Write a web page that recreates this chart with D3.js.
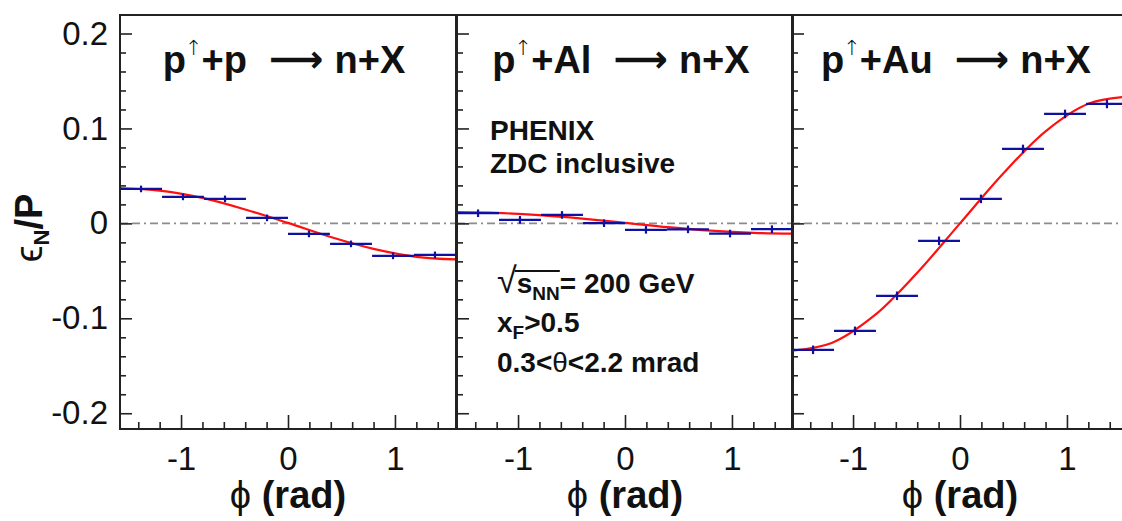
<!DOCTYPE html>
<meta charset="utf-8">
<title>PHENIX ZDC asymmetry</title>
<style>
body { margin: 0; background: #fff; }
svg { display: block; font-family: "Liberation Sans", Arial, sans-serif; }
.axis path { display: none; }
.axis line { stroke: #222; stroke-width: 1.6; }
.axis text { font-size: 33px; fill: #111; font-family: "Liberation Sans", Arial, sans-serif; }
.frame { fill: none; stroke: #222; stroke-width: 2; }
.zero { stroke: #8c8c8c; stroke-width: 1.6; stroke-dasharray: 8,4,8,4,2,4; }
.fit { fill: none; stroke: #ff1010; stroke-width: 2.2; }
.pt { stroke: #1010a0; stroke-width: 2.2; }
.big { font-size: 38px; font-weight: bold; fill: #111; }
.note { font-size: 28px; font-weight: bold; fill: #111; }
</style>
<body>
<svg width="1122" height="521"></svg>
<script src="https://d3js.org/d3.v7.min.js"></script>
<script>

// bin centres in phi (rad), same for every panel
var phiBins = [-1.374, -0.982, -0.589, -0.196, 0.196, 0.589, 0.982, 1.374];
var binHalf = 0.196;

var targets = ["+p", "+Al", "+Au"];

var asymPP  = [0.0363, 0.0279, 0.0258, 0.0058, -0.0111, -0.0216, -0.0342, -0.0332];
var asymPAl = [0.0107, 0.0037, 0.0089, 0.0002, -0.0068, -0.0063, -0.0107, -0.0061];
var asymPAu = [-0.1332, -0.1132, -0.0763, -0.0184, 0.0258, 0.0784, 0.1153, 0.1258];
var errPP  = [0.0035, 0.0035, 0.0035, 0.0035, 0.0035, 0.0035, 0.0035, 0.0035];
var errPAl = [0.004, 0.004, 0.004, 0.004, 0.004, 0.004, 0.004, 0.004];
var errPAu = [0.0045, 0.0045, 0.0045, 0.0045, 0.0045, 0.0045, 0.0045, 0.0045];

var fitPhi = [-1.571, -1.2, -0.8, -0.4, 0, 0.4, 0.8, 1.2, 1.571];
var fitPP  = [0.037, 0.0345, 0.0268, 0.0146, 0.0005, -0.0143, -0.0268, -0.0352, -0.038];
var fitPAl = [0.0118, 0.0110, 0.0086, 0.0050, 0.0006, -0.0040, -0.0077, -0.0100, -0.0108];
var fitPAu = [-0.134, -0.126, -0.097, -0.052, 0, 0.052, 0.097, 0.126, 0.1335];

var yMajor = [-0.2, -0.1, 0, 0.1, 0.2];
var yLabels = ["-0.2", "-0.1", "0", "0.1", "0.2"];
var xMajor = [-1, 0, 1];
var xLabels = ["-1", "0", "1"];

var panels = [
  {asym: asymPP, err: errPP, fit: fitPP, target: targets[0]},
  {asym: asymPAl, err: errPAl, fit: fitPAl, target: targets[1]},
  {asym: asymPAu, err: errPAu, fit: fitPAu, target: targets[2]}
];

var svg = d3.select("svg");
var panelLeft = [120, 457, 792],
    panelW = 336,
    panelTop = 15,
    panelH = 414;

var x = d3.scaleLinear().domain([-Math.PI / 2, Math.PI / 2]).range([0, panelW]);
var y = d3.scaleLinear().domain([-0.2166, 0.2195]).range([panelH, 0]);

var yMinor = d3.range(-0.2, 0.2001, 0.02).filter(function(v) { return Math.abs(v * 10 - Math.round(v * 10)) > 1e-6; });
var xMinor = d3.range(-1.4, 1.4001, 0.2).filter(function(v) { return Math.abs(v - Math.round(v)) > 1e-6; });

var line = d3.line()
  .x(function(d) { return x(d[0]); })
  .y(function(d) { return y(d[1]); })
  .curve(d3.curveCatmullRom);

panels.forEach(function(p, i) {
  var g = svg.append("g").attr("transform", "translate(" + panelLeft[i] + "," + panelTop + ")");

  g.append("line").attr("class", "zero")
    .attr("x1", 0).attr("x2", panelW).attr("y1", y(0)).attr("y2", y(0));

  // minor ticks
  g.append("g").attr("class", "axis")
    .call(d3.axisLeft(y).tickValues(yMinor).tickSize(-6).tickFormat(""));
  g.append("g").attr("class", "axis").attr("transform", "translate(0," + panelH + ")")
    .call(d3.axisBottom(x).tickValues(xMinor).tickSize(-7).tickFormat(""));

  // major ticks
  g.append("g").attr("class", "axis")
    .call(d3.axisLeft(y).tickValues(yMajor).tickSize(-12).tickPadding(12)
      .tickFormat(function(d, k) { return i == 0 ? yLabels[k] : ""; }));
  g.append("g").attr("class", "axis").attr("transform", "translate(0," + panelH + ")")
    .call(d3.axisBottom(x).tickValues(xMajor).tickSize(-14).tickPadding(18)
      .tickFormat(function(d, k) { return xLabels[k]; }));

  // fit
  g.append("path").attr("class", "fit")
    .attr("d", line(fitPhi.map(function(f, k) { return [f, p.fit[k]]; })));

  // points: bin width bar + stat error
  var pts = g.selectAll(".bin").data(phiBins).enter().append("g").attr("class", "bin");
  pts.append("line").attr("class", "pt")
    .attr("x1", function(d) { return x(Math.max(d - binHalf, -Math.PI / 2)); })
    .attr("x2", function(d) { return x(Math.min(d + binHalf, Math.PI / 2)); })
    .attr("y1", function(d, k) { return y(p.asym[k]); })
    .attr("y2", function(d, k) { return y(p.asym[k]); });
  pts.append("line").attr("class", "pt")
    .attr("x1", function(d) { return x(d); })
    .attr("x2", function(d) { return x(d); })
    .attr("y1", function(d, k) { return y(p.asym[k] - p.err[k]); })
    .attr("y2", function(d, k) { return y(p.asym[k] + p.err[k]); });

  g.append("rect").attr("class", "frame").attr("width", panelW).attr("height", panelH);

  // title  p^(up) + target -> n+X, laid out piece by piece
  var base = 58, gap1 = 20, gap2 = 11;
  var tA = g.append("text").attr("class", "big").attr("y", base);
  tA.append("tspan").text("p");
  tA.append("tspan").attr("font-family", "DejaVu Sans").attr("font-weight", 200)
    .attr("font-size", 21).attr("dy", -18).attr("dx", -1).text("\u2191");
  tA.append("tspan").attr("dy", 18).attr("dx", -1).text(p.target);
  var arr = g.append("text").attr("class", "big").attr("font-family", "DejaVu Sans")
    .attr("font-weight", 200).attr("font-size", 27).attr("y", base - 1).text("\u27f6");
  var tC = g.append("text").attr("class", "big").attr("y", base).text("n+X");
  var wA = tA.node().getComputedTextLength(),
      wArr = arr.node().getComputedTextLength(),
      wC = tC.node().getComputedTextLength();
  var tx = panelW / 2 - 4 - (wA + gap1 + wArr + gap2 + wC) / 2;
  tA.attr("x", tx);
  arr.attr("x", tx + wA + gap1);
  tC.attr("x", tx + wA + gap1 + wArr + gap2);

  // x title
  var xt = g.append("text").attr("class", "big").attr("font-size", 34)
    .attr("x", x(0)).attr("y", 493).attr("text-anchor", "middle");
  xt.append("tspan").attr("font-weight", "normal").text("\u03d5");
  xt.append("tspan").text(" (rad)");
});

// y title
var yt = svg.append("text").attr("class", "big").attr("font-size", 34)
  .attr("transform", "translate(42,228) rotate(-90)").attr("text-anchor", "middle");
yt.append("tspan").attr("font-weight", "normal").text("\u03f5");
yt.append("tspan").attr("font-size", 22).attr("dy", 7).text("N");
yt.append("tspan").attr("dy", -7).text("/P");

// notes in the middle panel
var n = svg.append("g").attr("transform", "translate(" + panelLeft[1] + ",0)");
n.append("text").attr("class", "note").attr("x", 33).attr("y", 140).text("PHENIX");
n.append("text").attr("class", "note").attr("x", 33).attr("y", 173).text("ZDC inclusive");

var s = n.append("text").attr("class", "note").attr("x", 40).attr("y", 293);
s.append("tspan").attr("font-weight", "normal").attr("font-size", 36).text("\u221a");
s.append("tspan").text("s");
s.append("tspan").attr("font-size", 19).attr("dy", 7).text("NN");
s.append("tspan").attr("dy", -7).text("= 200 GeV");
// bar over s_NN
var node = s.node();
var x0 = node.getStartPositionOfChar(1).x, x1 = node.getEndPositionOfChar(3).x;
n.append("line").attr("x1", x0 - 2).attr("x2", x1).attr("y1", 271).attr("y2", 271)
  .attr("stroke", "#111").attr("stroke-width", 2);

var xf = n.append("text").attr("class", "note").attr("x", 40).attr("y", 332);
xf.append("tspan").text("x");
xf.append("tspan").attr("font-size", 19).attr("dy", 7).text("F");
xf.append("tspan").attr("dy", -7).text(">0.5");

var th = n.append("text").attr("class", "note").attr("x", 40).attr("y", 372);
th.append("tspan").text("0.3<");
th.append("tspan").attr("font-weight", "normal").text("\u03b8");
th.append("tspan").text("<2.2 mrad");

</script>
</body>
